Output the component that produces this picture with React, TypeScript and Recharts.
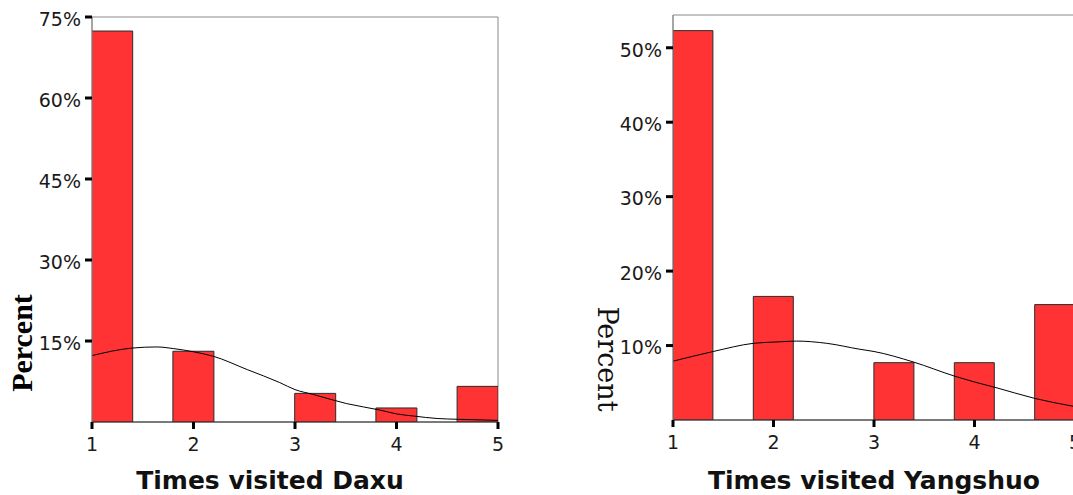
import { ComposedChart, Bar, Line, XAxis, YAxis, ReferenceArea, Label } from 'recharts';

// histogram bins are 0.4 wide, drawn at their centres
const binCenters = [1.2, 2.0, 3.2, 4.0, 4.8];
const daxuPct = [72.4, 13.1, 5.3, 2.6, 6.6];
const yangshuoPct = [52.3, 16.6, 7.7, 7.7, 15.5];

// normal curve
const daxuCurveX = [1, 1.4, 1.64, 1.8, 2.0, 2.19, 2.53, 2.85, 3.0, 3.18, 3.51, 3.84, 4.0, 4.17, 4.4, 4.61, 5];
const daxuCurveY = [12.3, 13.7, 13.9, 13.6, 13.0, 12.2, 9.7, 7.3, 6.0, 5.1, 3.4, 2.2, 1.5, 1.1, 0.65, 0.5, 0.3];
const yangCurveX = [1, 1.4, 1.8, 2.06, 2.23, 2.53, 2.86, 3.0, 3.39, 3.8, 4.0, 4.2, 4.6, 5.0];
const yangCurveY = [7.9, 9.2, 10.3, 10.5, 10.6, 10.3, 9.5, 9.2, 7.8, 5.9, 5.1, 4.4, 2.9, 1.8];

const xTicks = [1, 2, 3, 4, 5];
const daxuYTicks = [15, 30, 45, 60, 75];
const yangYTicks = [10, 20, 30, 40, 50];

const tickFont = { fontFamily: '"DejaVu Sans", sans-serif', fontSize: 19, fill: '#1a1a1a' };
const titleFont = { fontFamily: '"DejaVu Sans", sans-serif', fontSize: 25, fontWeight: 'bold', fill: '#111' };

interface HistProps {
  bins: number[];
  pct: number[];
  curveX: number[];
  curveY: number[];
  yTicks: number[];
  yMax: number;
  title: string;
  titleDx: number;
  margin: { top: number; right: number; left: number; bottom: number };
  yAxisWidth: number;
  xAxisHeight: number;
  barSize: number;
  percentLabel: (vb: any) => JSX.Element;
}

function Histogram(p: HistProps) {
  const bars = p.bins.map((x, i) => ({ x, pct: p.pct[i] }));
  const curve = p.curveX.map((x, i) => ({ cx: x, fit: p.curveY[i] }));
  return (
    <ComposedChart width={600} height={495} data={bars} margin={p.margin}>
      <XAxis
        dataKey="x"
        type="number"
        domain={[1, 5]}
        ticks={xTicks}
        allowDataOverflow
        height={p.xAxisHeight}
        tickSize={7}
        tickMargin={9}
        tick={tickFont}
        tickLine={{ stroke: '#000', strokeWidth: 3 }}
        axisLine={{ stroke: '#333' }}
      >
        <Label value={p.title} position="insideBottom" offset={6} dx={p.titleDx} {...titleFont} />
      </XAxis>
      {/* same scale, kept apart so the curve points don't shrink the bars */}
      <XAxis xAxisId="curve" dataKey="cx" type="number" domain={[1, 5]} allowDataOverflow hide />
      <YAxis
        type="number"
        domain={[0, p.yMax]}
        ticks={p.yTicks}
        allowDataOverflow
        width={p.yAxisWidth}
        tickSize={7}
        tickMargin={4}
        tick={{ ...tickFont, dy: 2 }}
        tickFormatter={(v) => `${v}%`}
        tickLine={{ stroke: '#000', strokeWidth: 3 }}
        axisLine={{ stroke: '#888' }}
      >
        <Label content={(props: any) => p.percentLabel(props.viewBox)} />
      </YAxis>
      <ReferenceArea x1={1} x2={5} y1={0} y2={p.yMax} fill="none" stroke="#888" strokeWidth={1} ifOverflow="visible" />
      <Bar dataKey="pct" barSize={p.barSize} fill="#ff3333" stroke="#2a2a2a" strokeWidth={1} isAnimationActive={false} />
      <Line
        xAxisId="curve"
        data={curve}
        dataKey="fit"
        type="monotone"
        stroke="#000"
        strokeWidth={1}
        dot={false}
        activeDot={false}
        isAnimationActive={false}
      />
    </ComposedChart>
  );
}

export default function App() {
  return (
    <div style={{ position: 'fixed', left: 0, top: 0, width: 1073, height: 495, overflow: 'hidden', background: '#fff' }}>
      <div style={{ position: 'absolute', left: 0, top: 0 }}>
        <Histogram
          bins={binCenters}
          pct={daxuPct}
          curveX={daxuCurveX}
          curveY={daxuCurveY}
          yTicks={daxuYTicks}
          yMax={75}
          title="Times visited Daxu"
          titleDx={-25}
          margin={{ top: 17, right: 102, left: 0, bottom: 0 }}
          yAxisWidth={92}
          xAxisHeight={73}
          barSize={41}
          percentLabel={(vb) => {
            const cx = 21;
            const cy = vb.y + vb.height - 79;
            return (
              <text
                x={cx}
                y={cy}
                transform={`rotate(-90 ${cx} ${cy})`}
                textAnchor="middle"
                dominantBaseline="central"
                fontFamily='"Liberation Serif", serif'
                fontWeight="bold"
                fontSize={30}
                fill="#000"
              >
                Percent
              </text>
            );
          }}
        />
      </div>
      <div style={{ position: 'absolute', left: 580, top: 0 }}>
        <Histogram
          bins={binCenters}
          pct={yangshuoPct}
          curveX={yangCurveX}
          curveY={yangCurveY}
          yTicks={yangYTicks}
          yMax={54.4}
          title="Times visited Yangshuo"
          titleDx={0}
          margin={{ top: 15, right: 105, left: 0, bottom: 0 }}
          yAxisWidth={93}
          xAxisHeight={75}
          barSize={40}
          percentLabel={(vb) => {
            const cx = 27;
            const cy = vb.y + vb.height - 61;
            return (
              <text
                x={cx}
                y={cy}
                transform={`rotate(90 ${cx} ${cy})`}
                textAnchor="middle"
                dominantBaseline="central"
                fontFamily='"DejaVu Serif", serif'
                fontSize={27}
                fill="#111"
              >
                Percent
              </text>
            );
          }}
        />
      </div>
    </div>
  );
}
